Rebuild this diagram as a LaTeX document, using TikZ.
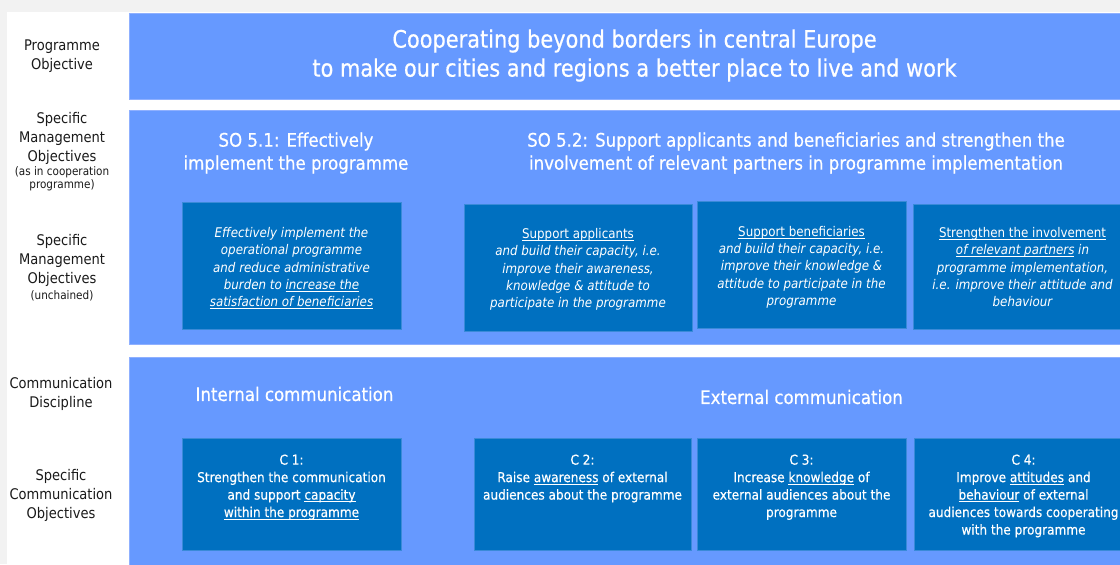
\documentclass[tikz,border=0pt]{standalone}
\usepackage{fontspec}
\setmainfont{DejaVu Sans}[FakeStretch=0.89]
\newfontfamily\titlefont{DejaVu Sans}[FakeStretch=0.87, FakeBold=0.5]
\newfontfamily\headfont{DejaVu Sans}[FakeStretch=0.89, FakeBold=0.5]
\newfontfamily\cfont{DejaVu Sans}[FakeStretch=0.89, FakeBold=0.4]
\newcommand{\ulined}[1]{\leavevmode\setbox0=\hbox{#1}\rlap{\rule[-1.6pt]{\wd0}{0.5pt}}\box0\relax}
\usetikzlibrary{positioning}
\definecolor{bandblue}{HTML}{6699FF}
\definecolor{bandedge}{HTML}{8FB0FF}
\definecolor{boxblue}{HTML}{0070C0}
\definecolor{boxedge}{HTML}{3A8AD8}
\definecolor{pagegrey}{HTML}{F2F2F2}
\definecolor{labelgrey}{HTML}{1A1A1A}

\begin{document}
\begin{tikzpicture}[x=0.75pt, y=-0.75pt,
    boxsize/.style 2 args={minimum width=#1*0.75pt, minimum height=#2*0.75pt},
    objbox/.style={draw=boxedge, fill=boxblue, line width=0.6pt, inner sep=0pt},
    boxtext/.style={text=white, align=center, inner sep=0pt, font=\fontsize{10}{13}\selectfont\itshape},
    ctext/.style={text=white, align=center, inner sep=0pt, font=\fontsize{10.2}{13.1}\cfont},
    heading/.style={text=white, align=center, inner sep=0pt, font=\fontsize{14}{17.25}\headfont},
    rowlabel/.style={text=labelgrey, align=center, inner sep=0pt, font=\fontsize{11}{14.25}\selectfont},
    sublabel/.style={text=labelgrey, align=center, inner sep=0pt, font=\fontsize{8.8}{9.75}\selectfont}]

    \useasboundingbox (0,0) rectangle (1120,564);
    \clip (0,0) rectangle (1120,564);
    \fill[pagegrey] (0,0) rectangle (1120,564);
    \fill[white] (7,12) rectangle (1120,564);
    \filldraw[fill=bandblue, draw=bandedge, line width=0.6pt] (129,13) rectangle (1124,99);
    \filldraw[fill=bandblue, draw=bandedge, line width=0.6pt] (129,110) rectangle (1124,344);
    \filldraw[fill=bandblue, draw=bandedge, line width=0.6pt] (129,357) rectangle (1124,568);

    \node[rowlabel] (lprog) at (62,56.5) {Programme\\Objective};
    \node[rowlabel] (lsmo)  at (62,138) {Specific\\Management\\Objectives};
    \node[sublabel, below=1.5pt of lsmo] (lsmosub) {(as in cooperation\\programme)};
    \node[rowlabel] (lsmu)  at (62,260) {Specific\\Management\\Objectives};
    \node[sublabel, below=3pt of lsmu] (lsmusub) {(unchained)};
    \node[rowlabel] (ldisc) at (61,393.5) {Communication\\Discipline};
    \node[rowlabel] (lsco)  at (61,495) {Specific\\Communication\\Objectives};

    \node[heading, font=\fontsize{18}{21.75}\titlefont] (title) at (634.5,55.5)
        {Cooperating beyond borders in central Europe\\to make our cities and regions a better place to live and work};

    \node[heading] (so51) at (296,153) {SO 5.1: Effectively\\implement the programme};
    \node[heading] (so52) at (796,153) {SO 5.2: Support applicants and beneficiaries and strengthen the\\involvement of relevant partners in programme implementation};

    \node[objbox, boxsize={219}{127}] (impl) at (291.5,265.5) {};
    \node[objbox, boxsize={228}{127}] (appl) at (578,267.5) {};
    \node[objbox, boxsize={209}{127}] (bene) at (801.5,264.5) {};
    \node[objbox, boxsize={219}{125}] (part) at (1022.5,266.5) {};

    \node[boxtext] (implt) at ([yshift=-2pt]impl.center)
        {Effectively implement the\\operational programme\\and reduce administrative\\burden to \ulined{increase the}\\\ulined{satisfaction of beneficiaries}};
    \node[boxtext] (applt) at ([yshift=-1.5pt]appl.center)
        {{\upshape\ulined{Support applicants}}\\and build their capacity, i.e.\\improve their awareness,\\knowledge \& attitude to\\participate in the programme};
    \node[boxtext] (benet) at ([yshift=-2pt]bene.center)
        {{\upshape\ulined{Support beneficiaries}}\\and build their capacity, i.e.\\improve their knowledge \&\\attitude to participate in the\\programme};
    \node[boxtext] (partt) at ([yshift=-0.5pt]part.center)
        {{\upshape\ulined{Strengthen the involvement}}\\\ulined{of relevant partners} in\\programme implementation,\\i.e. improve their attitude and\\behaviour};

    \node[heading] (intc) at (294.5,394) {Internal communication};
    \node[heading] (extc) at (801.5,397) {External communication};

    \node[objbox, boxsize={219}{112}] (c1) at (291.5,494) {};
    \node[objbox, boxsize={217}{112}] (c2) at (582.5,494) {};
    \node[objbox, boxsize={209}{112}] (c3) at (801.5,494) {};
    \node[objbox, boxsize={219}{112}] (c4) at (1023.5,494) {};

    \node[ctext, below=12.5pt of c1.north] (c1t) {C 1:\\Strengthen the communication\\and support \ulined{capacity}\\\ulined{within the programme}};
    \node[ctext, below=12.5pt of c2.north] (c2t) {C 2:\\Raise \ulined{awareness} of external\\audiences about the programme};
    \node[ctext, below=12.5pt of c3.north] (c3t) {C 3:\\Increase \ulined{knowledge} of\\external audiences about the\\programme};
    \node[ctext, below=12.5pt of c4.north] (c4t) {C 4:\\Improve \ulined{attitudes} and\\\ulined{behaviour} of external\\audiences towards cooperating\\with the programme};
\end{tikzpicture}
\end{document}
